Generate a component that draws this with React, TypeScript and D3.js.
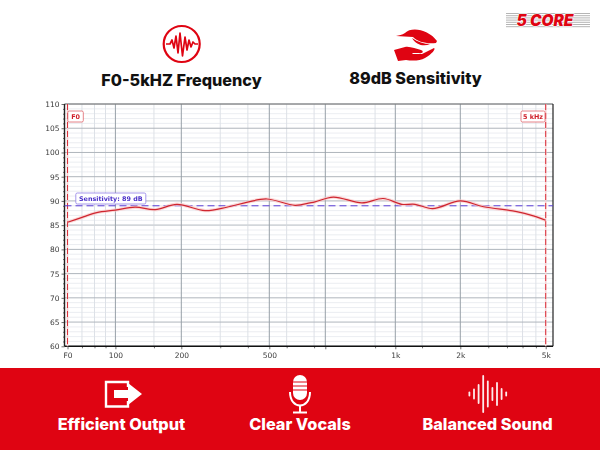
import { useEffect, useRef } from "react";
import * as d3 from "d3";

// frequency axis in the picture is not a clean log scale, so it is pinned piecewise
const xAnchors = [58, 60, 100, 200, 500, 900, 1000, 2000, 5000, 5400];
const xAnchorPx = [64.5, 67.5, 115.4, 181.3, 269.3, 325.3, 395.3, 460.3, 545.7, 553];
const xMajor = [100, 200, 500, 900, 1000, 2000, 5000];
const xMinor = [70, 80, 90, 150, 300, 400, 600, 800, 970, 1330, 2700, 3300, 3900, 4500];
const xLabels = ["100", "200", "500", "", "1k", "2k", "5k"];

const yMajor = [60, 65, 70, 75, 80, 85, 90, 95, 100, 105, 110];

const freq = [60, 69, 82, 100, 123, 152, 191, 256, 321, 395, 487, 655, 766, 808, 911, 951, 982, 1071, 1234, 1490, 2000, 2567, 3663, 4380, 5000];
const spl = [85.6, 86.5, 87.6, 88.1, 88.7, 88.2, 89.3, 88.0, 88.7, 89.7, 90.4, 89.1, 89.6, 89.8, 90.8, 89.6, 90.5, 89.3, 89.3, 88.4, 90.0, 88.8, 87.8, 86.9, 86.0];

const sensitivity = 89;
const waveBars = [5, 11, 20, 38, 27, 14, 24, 12, 5];
const RED = "#df0412";

function ChartArea() {
  const ref = useRef<SVGGElement>(null);

  useEffect(() => {
    if (!ref.current) return;
    const g = d3.select(ref.current);
    g.selectAll("*").remove();

    const x = d3.scaleLog().domain(xAnchors).range(xAnchorPx);
    const y = d3.scaleLinear().domain([60, 110]).range([346.3, 104]);
    const left = 64.5;
    const right = 553;

    // minor grid
    const yMinor = d3.range(60, 111).filter((d) => d % 5 !== 0);
    g.selectAll(".hminor")
      .data(yMinor)
      .enter()
      .append("line")
      .attr("x1", left)
      .attr("x2", right)
      .attr("y1", (d) => y(d))
      .attr("y2", (d) => y(d))
      .attr("stroke", "#e6e9ee")
      .attr("stroke-width", 0.8);

    g.selectAll(".vminor")
      .data(xMinor)
      .enter()
      .append("line")
      .attr("x1", (d) => x(d))
      .attr("x2", (d) => x(d))
      .attr("y1", 104)
      .attr("y2", 346.3)
      .attr("stroke", "#dde1e7")
      .attr("stroke-width", 1);

    // major grid
    g.selectAll(".hmajor")
      .data(yMajor)
      .enter()
      .append("line")
      .attr("x1", left)
      .attr("x2", right)
      .attr("y1", (d) => y(d))
      .attr("y2", (d) => y(d))
      .attr("stroke", (d) => (d === 85 ? "#d3d7db" : "#afb5bc"))
      .attr("stroke-width", (d) => (d === 85 ? 1.6 : 1));

    g.selectAll(".vmajor")
      .data(xMajor.filter((d) => d !== 5000))
      .enter()
      .append("line")
      .attr("x1", (d) => x(d))
      .attr("x2", (d) => x(d))
      .attr("y1", 104)
      .attr("y2", 346.3)
      .attr("stroke", "#98a0a8")
      .attr("stroke-width", 1);

    // axes
    const yAxis = g
      .append("g")
      .attr("transform", `translate(${left},0)`)
      .call(d3.axisLeft(y).tickValues(yMajor).tickSize(3).tickPadding(2));
    const yMinorAxis = g
      .append("g")
      .attr("transform", `translate(${left},0)`)
      .call(d3.axisLeft(y).tickValues(yMinor).tickSize(1.5).tickFormat(() => ""));
    const xAxis = g
      .append("g")
      .attr("transform", "translate(0,346.3)")
      .call(
        d3
          .axisBottom(x)
          .tickValues([60, ...xMajor])
          .tickSize(3)
          .tickPadding(3)
          .tickFormat((d) => (d === 60 ? "F0" : xLabels[xMajor.indexOf(+d)])),
      );
    const xMinorAxis = g
      .append("g")
      .attr("transform", "translate(0,346.3)")
      .call(d3.axisBottom(x).tickValues(xMinor).tickSize(2).tickFormat(() => ""));

    [yAxis, xAxis, yMinorAxis, xMinorAxis].forEach((a) => {
      a.select(".domain").remove();
      a.selectAll("line").attr("stroke", "#333").attr("stroke-width", 0.7);
      a.selectAll("text")
        .attr("fill", "#3a3a3a")
        .style("font-family", "DejaVu Sans")
        .style("font-size", "7.5px");
    });

    // frame
    g.append("line").attr("x1", left).attr("x2", right).attr("y1", 104).attr("y2", 104).attr("stroke", "#777").attr("stroke-width", 1);
    g.append("line").attr("x1", right).attr("x2", right).attr("y1", 104).attr("y2", 346.3).attr("stroke", "#222").attr("stroke-width", 1.2);
    g.append("line").attr("x1", left).attr("x2", left).attr("y1", 104).attr("y2", 346.3).attr("stroke", "#222").attr("stroke-width", 1.4);
    g.append("line").attr("x1", left).attr("x2", right).attr("y1", 346.3).attr("y2", 346.3).attr("stroke", "#111").attr("stroke-width", 1.4);

    // band limits
    [60, 5000].forEach((f) => {
      g.append("line")
        .attr("x1", x(f))
        .attr("x2", x(f))
        .attr("y1", 104)
        .attr("y2", 346.3)
        .attr("stroke", "#f6cfd1")
        .attr("stroke-width", 1.6);
      g.append("line")
        .attr("x1", x(f))
        .attr("x2", x(f))
        .attr("y1", 104)
        .attr("y2", 346.3)
        .attr("stroke", "#d9323c")
        .attr("stroke-width", 1)
        .attr("stroke-dasharray", "6,3");
    });

    // sensitivity line
    g.append("line")
      .attr("x1", left)
      .attr("x2", right)
      .attr("y1", y(sensitivity))
      .attr("y2", y(sensitivity))
      .attr("stroke", "#5a3fd6")
      .attr("stroke-width", 1)
      .attr("stroke-dasharray", "7,4");

    // response curve with its pale halo
    const line = d3
      .line<number>()
      .x((d) => x(d))
      .y((_d, i) => y(spl[i]))
      .curve(d3.curveCatmullRom.alpha(0.5));
    g.append("path").attr("d", line(freq)).attr("fill", "none").attr("stroke", "#f9c9c9").attr("stroke-width", 3.4).attr("opacity", 0.7);
    g.append("path").attr("d", line(freq)).attr("fill", "none").attr("stroke", "#cf2630").attr("stroke-width", 1.2);

    // labels
    const badge = (bx: number, by: number, w: number, label: string, color: string, border: string) => {
      g.append("rect").attr("x", bx).attr("y", by).attr("width", w).attr("height", 11).attr("rx", 1.5).attr("fill", "#fff").attr("stroke", border).attr("stroke-width", 0.8);
      g.append("text")
        .attr("x", bx + w / 2)
        .attr("y", by + 8)
        .attr("text-anchor", "middle")
        .attr("fill", color)
        .style("font-family", "DejaVu Sans")
        .style("font-weight", "700")
        .style("font-size", "6.4px")
        .text(label);
    };
    badge(67.8, 111, 15.5, "F0", "#d0202a", "#e0636a");
    badge(521, 111, 24, "5 kHz", "#d0202a", "#e0636a");
    badge(75.8, 193, 70, `Sensitivity: ${sensitivity} dB`, "#4a2fc8", "#8f7ee6");
  }, []);

  return <g ref={ref} style={{ filter: "blur(0.3px)" }} />;
}

function Heading({ x, y, size, fill, children }: { x: number; y: number; size: number; fill: string; children: string }) {
  return (
    <text x={x} y={y} textAnchor="middle" fill={fill} fontFamily="Inter" fontWeight={800} fontSize={size}>
      {children}
    </text>
  );
}

function PulseIcon() {
  return (
    <g>
      <circle cx={181.7} cy={44} r={18} fill="none" stroke={RED} strokeWidth={2.2} />
      <path
        d="M166 44 H170 L172 40 L174 48 L176 36 L178 53 L180 33 L182.500 56 L185 37 L187 50 L189 40 L191 47 L193 42 L195 44 H198"
        fill="none"
        stroke={RED}
        strokeWidth={1.7}
        strokeLinejoin="round"
      />
    </g>
  );
}

function LeafHandIcon() {
  return (
    <g fill={RED}>
      <path d="M405 33 C412 26 429 30 437 41 L436 43 C426 44 418 42 413 37 L396 36 C399 35 402 35 405 33 Z" />
      <path d="M412 38 C418 42 424 44 430 44 C424 47 416 45 412 38 Z" />
      <path d="M394 50 L405 47 C410 46 416 49 421 50 C424 51 423 54 419 53 L412 53 L413 54 L422 54 L434 48 C436 49 432 54 425 58 C420 61 412 61 406 60 L398 61 Z" />
    </g>
  );
}

function OutputIcon() {
  return (
    <g>
      <path d="M128 387 V382 H106 V406.500 H128 V401" fill="none" stroke="#fff" strokeWidth={2.4} />
      <path d="M114 390 H128 V383 L142 394 L128 405 V398 H114 Z" fill="#fff" />
    </g>
  );
}

function MicIcon() {
  return (
    <g>
      <rect x={293} y={375} width={14} height={25} rx={7} fill="#fff" />
      <path d="M293 382 H307 M293 386 H307 M293 390 H307" stroke={RED} strokeWidth={1} />
      <path d="M290 392 C290 410 310 410 310 392" fill="none" stroke="#fff" strokeWidth={2} />
      <path d="M300 406 V412 M293 412.500 H307" stroke="#fff" strokeWidth={2} />
    </g>
  );
}

function WaveIcon() {
  // bars only, spaced evenly round the middle of the label
  return (
    <g fill="#fff">
      {waveBars.map((h, i) => (
        <rect key={i} x={468.500 + i * 4.6} y={394 - h / 2} width={1.8} height={h} rx={0.9} opacity={0.92} />
      ))}
    </g>
  );
}

function Logo() {
  return (
    <g>
      {d3.range(0, 7).map((i) => (
        <line key={i} x1={506} x2={590} y1={13.500 + i * 2.2} y2={13.500 + i * 2.2} stroke="#b5b5b5" strokeWidth={1} />
      ))}
      <text
        x={545}
        y={26}
        textAnchor="middle"
        fill={RED}
        stroke="#fff"
        strokeWidth={1}
        paintOrder="stroke"
        fontFamily="Inter"
        fontStyle="italic"
        fontWeight={900}
        fontSize={15.500}
      >
        5 CORE
      </text>
    </g>
  );
}

export default function App() {
  return (
    <svg width={600} height={450} viewBox="0 0 600 450" style={{ position: "absolute", left: 0, top: 0, background: "#fff" }}>
      <PulseIcon />
      <LeafHandIcon />
      <Logo />
      <Heading x={181.500} y={86} size={16.200} fill="#111">F0-5kHZ Frequency</Heading>
      <Heading x={415.500} y={84} size={16.200} fill="#111">89dB Sensitivity</Heading>
      <ChartArea />
      <rect x={0} y={368} width={600} height={82} fill={RED} />
      <OutputIcon />
      <MicIcon />
      <WaveIcon />
      <Heading x={121.500} y={430} size={16.300} fill="#fff">Efficient Output</Heading>
      <Heading x={300} y={430} size={16.300} fill="#fff">Clear Vocals</Heading>
      <Heading x={487.500} y={430} size={16.300} fill="#fff">Balanced Sound</Heading>
    </svg>
  );
}
